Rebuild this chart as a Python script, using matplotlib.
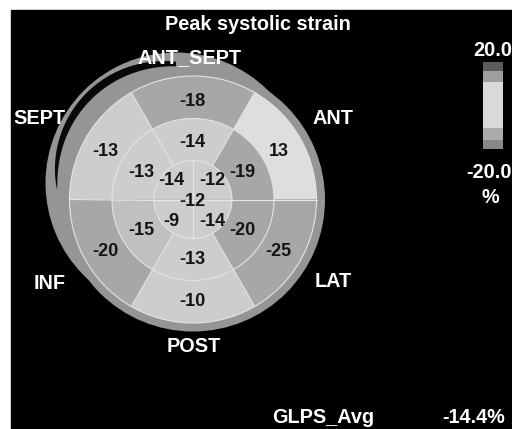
import numpy as np
import matplotlib
matplotlib.use("Agg")
import matplotlib.pyplot as plt
from matplotlib.patches import Wedge, Circle, Rectangle, Polygon
from matplotlib.colors import ListedColormap, BoundaryNorm
from matplotlib.colorbar import ColorbarBase

# ---------------- data ----------------
basal_values = [-18, 13, -25, -10, -20, -13]      # ANT_SEPT, ANT, LAT, POST, INF, SEPT
mid_values = [-14, -19, -20, -13, -15, -13]
apical_values = [-14, -12, -14, -9]               # upper-left, upper-right, lower-right, lower-left
apex_value = -12
wall_labels = ["ANT_SEPT", "ANT", "LAT", "POST", "INF", "SEPT"]
title = "Peak systolic strain"
cbar_max, cbar_min, cbar_unit = "20.0", "-20.0", "%"
avg_label, avg_value = "GLPS_Avg", "-14.4%"

# colour scale of the legend bar
cbar_bounds = [-20, -15.7, -10.4, 10.9, 15.9, 20]
cbar_colors = ["#878787", "#ababab", "#d9d9d9", "#9e9e9e", "#5c5c5c"]
# rendering scale of the map
seg_bounds = [-30, -15.5, -14.5, 0, 30]
seg_colors = ["#a7a7a7", "#c0c0c0", "#cdcdcd", "#dedede"]

# ---------------- layout ----------------
W, H = 512, 429
fig = plt.figure(figsize=(W / 100, H / 100), dpi=100, facecolor="white")
ax = fig.add_axes([0, 0, 1, 1])
ax.set_xlim(0, W)
ax.set_ylim(H, 0)
ax.axis("off")
ax.add_patch(Rectangle((11, 10), W - 11, H - 10, color="black", zorder=0))

cx, cy = 193, 199.5
R_out, R_mid, R_ap = 123.5, 81, 39
seg_cmap = ListedColormap(seg_colors)
seg_norm = BoundaryNorm(seg_bounds, seg_cmap.N)

def wedge(r, width, phi1, phi2, color):
    ax.add_patch(Wedge((cx, cy), r, -phi2, -phi1, width=width,
                       facecolor=color, edgecolor="none", zorder=3))

# outer grey shell
ring_col = "#959595"
ax.add_patch(Circle((cx, cy), 132, color=ring_col, zorder=1, lw=0))
bx, by = 176, 183
ax.add_patch(Circle((bx, by), 130.5, color=ring_col, zorder=1, lw=0))
t = np.linspace(0, 1, 120)
phi = np.deg2rad(90 + 93 * t)
rc = 119 + 4 * np.sin(np.pi * t)
w = 8 * np.sin(np.pi * (0.15 + 0.85 * t)) ** 0.7
ro, ri = rc + w / 2, rc - w / 2
xs = np.concatenate([bx + ro * np.cos(phi), (bx + ri * np.cos(phi))[::-1]])
ys = np.concatenate([by - ro * np.sin(phi), (by - ri * np.sin(phi))[::-1]])
ax.add_patch(Polygon(np.column_stack([xs, ys]), closed=True,
                     facecolor="#080808", edgecolor="none", zorder=2))

six_centres = [90, 30, -30, -90, -150, 150]
four_centres = [135, 45, -45, -135]

for v, c in zip(basal_values, six_centres):
    wedge(R_out, R_out - R_mid, c - 30, c + 30, seg_cmap(seg_norm(v)))
for v, c in zip(mid_values, six_centres):
    wedge(R_mid, R_mid - R_ap, c - 30, c + 30, seg_cmap(seg_norm(v)))
for v, c in zip(apical_values, four_centres):
    wedge(R_ap, None, c - 45, c + 45, seg_cmap(seg_norm(v)))

# grid lines
gl = dict(color="#e4e4e4", lw=0.8, zorder=4)
for r in (R_out, R_mid, R_ap):
    ax.add_patch(Circle((cx, cy), r, fill=False, ec="#e4e4e4", lw=0.8, zorder=4))
for a in range(0, 360, 60):
    ar = np.deg2rad(a)
    ax.plot([cx + R_ap * np.cos(ar), cx + R_out * np.cos(ar)],
            [cy - R_ap * np.sin(ar), cy - R_out * np.sin(ar)], **gl)
for a in range(0, 360, 90):
    ar = np.deg2rad(a)
    ax.plot([cx, cx + R_ap * np.cos(ar)], [cy, cy - R_ap * np.sin(ar)], **gl)

# segment values
num_kw = dict(fontsize=13, fontweight="bold", color="#151515", ha="center",
              va="baseline", family="Liberation Sans", zorder=6)
def seg_text(v, r, a):
    ar = np.deg2rad(a)
    ax.text(cx + r * np.cos(ar) - 1, cy - r * np.sin(ar) + 6.3, f"{v}", **num_kw)
for v, c in zip(basal_values, six_centres):
    seg_text(v, 100, c)
for v, c in zip(mid_values, six_centres):
    seg_text(v, 58.5, c)
for v, c in zip(apical_values, four_centres):
    seg_text(v, 29, c)
seg_text(apex_value, 0.5, -90)

# white labels
lab_kw = dict(fontsize=14.3, fontweight="bold", color="white", va="baseline",
              family="Liberation Sans", zorder=7)
ax.text(258, 29.5, title, ha="center", **lab_kw)
label_pos = [(190, 63), (333, 124), (333, 287), (193.5, 352), (49.5, 289), (39, 124)]
for name, (x, y) in zip(wall_labels, label_pos):
    ax.text(x, y, name, ha="center", **lab_kw)
ax.text(473, 56, cbar_max, ha="left", **lab_kw)
ax.text(466, 178, cbar_min, ha="left", **lab_kw)
ax.text(490, 203, cbar_unit, ha="center", **lab_kw)
ax.text(272, 423, avg_label, ha="left", **lab_kw)
ax.text(442, 423, avg_value, ha="left", **lab_kw)

# colour bar
cax = fig.add_axes([482.7 / W, (H - 149.3) / H, 20.6 / W, 87.6 / H])
cb_cmap = ListedColormap(cbar_colors)
cb = ColorbarBase(cax, cmap=cb_cmap, norm=BoundaryNorm(cbar_bounds, cb_cmap.N),
                  orientation="vertical", spacing="proportional")
cb.outline.set_visible(False)
cb.set_ticks([])

fig.savefig("out.png", dpi=100, facecolor="white")
